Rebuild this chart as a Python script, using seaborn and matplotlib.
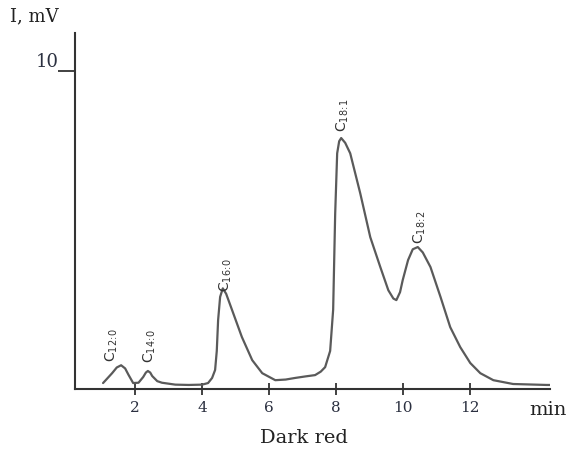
import matplotlib
matplotlib.use("Agg")
import matplotlib.pyplot as plt
import seaborn as sns
import pandas as pd

# retention time (min) and detector signal (mV)
time_min = [1.04, 1.31, 1.45, 1.58, 1.7, 1.8, 1.94, 2.1, 2.24, 2.32, 2.38, 2.45,
            2.51, 2.66, 2.8, 3.2, 3.6, 4.0, 4.18, 4.3, 4.39, 4.44, 4.48, 4.54,
            4.62, 4.72, 4.9, 5.19, 5.5, 5.8, 6.19, 6.5, 6.78, 7.1, 7.38, 7.55,
            7.68, 7.83, 7.92, 7.98, 8.04, 8.1, 8.16, 8.28, 8.43, 8.73, 9.03,
            9.33, 9.57, 9.72, 9.81, 9.92, 10.0, 10.16, 10.3, 10.45, 10.6, 10.83,
            11.13, 11.42, 11.72, 12.02, 12.32, 12.71, 13.3, 14.3, 14.9]
signal_mv = [0.19, 0.5, 0.68, 0.75, 0.65, 0.45, 0.19, 0.2, 0.38, 0.52, 0.57, 0.52,
             0.41, 0.25, 0.2, 0.14, 0.13, 0.14, 0.19, 0.35, 0.6, 1.2, 2.17, 2.9,
             3.17, 3.0, 2.48, 1.64, 0.91, 0.5, 0.28, 0.3, 0.35, 0.4, 0.44, 0.55,
             0.69, 1.2, 2.5, 5.5, 7.42, 7.8, 7.9, 7.75, 7.42, 6.16, 4.78,
             3.84, 3.11, 2.85, 2.8, 3.05, 3.43, 4.06, 4.4, 4.47, 4.3, 3.84,
             2.9, 1.95, 1.32, 0.82, 0.5, 0.28, 0.16, 0.13, 0.13]

peak_labels = [r"C$_\mathregular{12\!:\!0}$", r"C$_\mathregular{14\!:\!0}$", r"C$_\mathregular{16\!:\!0}$",
               r"C$_\mathregular{18\!:\!1}$", r"C$_\mathregular{18\!:\!2}$"]
peak_label_x = [1.31, 2.45, 4.7, 8.22, 10.5]
peak_label_y = [0.85, 0.82, 3.05, 8.1, 4.56]

x_ticks = [2, 4, 6, 8, 10, 12]
y_ticks = [10]

sns.set_style("white")
plt.rcParams["font.family"] = ["DejaVu Serif"]
plt.rcParams["mathtext.fontset"] = "dejavusans"

fig = plt.figure(figsize=(5.71, 4.61), dpi=100)
ax = fig.add_axes([0.1313, 0.156, 0.8317, 0.772])

df = pd.DataFrame({"time": time_min, "signal": signal_mv})
sns.lineplot(data=df, x="time", y="signal", ax=ax, color="#5a5a5a", linewidth=1.6)

ax.set_xlim(0.2, 14.4)
ax.set_ylim(0, 11.2)
ax.set_xlabel("")
ax.set_ylabel("")

for s in ["top", "right"]:
    ax.spines[s].set_visible(False)
for s in ["left", "bottom"]:
    ax.spines[s].set_linewidth(1.5)
    ax.spines[s].set_color("#333333")

ax.set_xticks(x_ticks)
ax.set_xticklabels([str(t) for t in x_ticks], fontsize=11, color="#2b3040")
ax.tick_params(axis="x", bottom=True, direction="inout", length=9, width=1.3,
               color="#333333", pad=4)
ax.set_yticks(y_ticks)
ax.set_yticklabels([str(t) for t in y_ticks], fontsize=13, color="#2b3040")
ax.tick_params(axis="y", left=True, direction="out", length=12, width=1.3,
               color="#333333", pad=0)
for lab in ax.get_yticklabels():
    lab.set_va("bottom")

for lab, px, py in zip(peak_labels, peak_label_x, peak_label_y):
    ax.text(px, py, lab, rotation=90, ha="center", va="bottom", fontsize=10,
            family="DejaVu Sans", color="#333333")

fig.text(10 / 571, 1 - 16 / 461, "I, mV", ha="left", va="center", fontsize=13, color="#222222")
fig.text(529 / 571, 1 - 410 / 461, "min", ha="left", va="center", fontsize=14, color="#222222")
fig.text(304 / 571, 1 - 438 / 461, "Dark red", ha="center", va="center", fontsize=14, color="#222222")

fig.savefig("out.png", dpi=100)
